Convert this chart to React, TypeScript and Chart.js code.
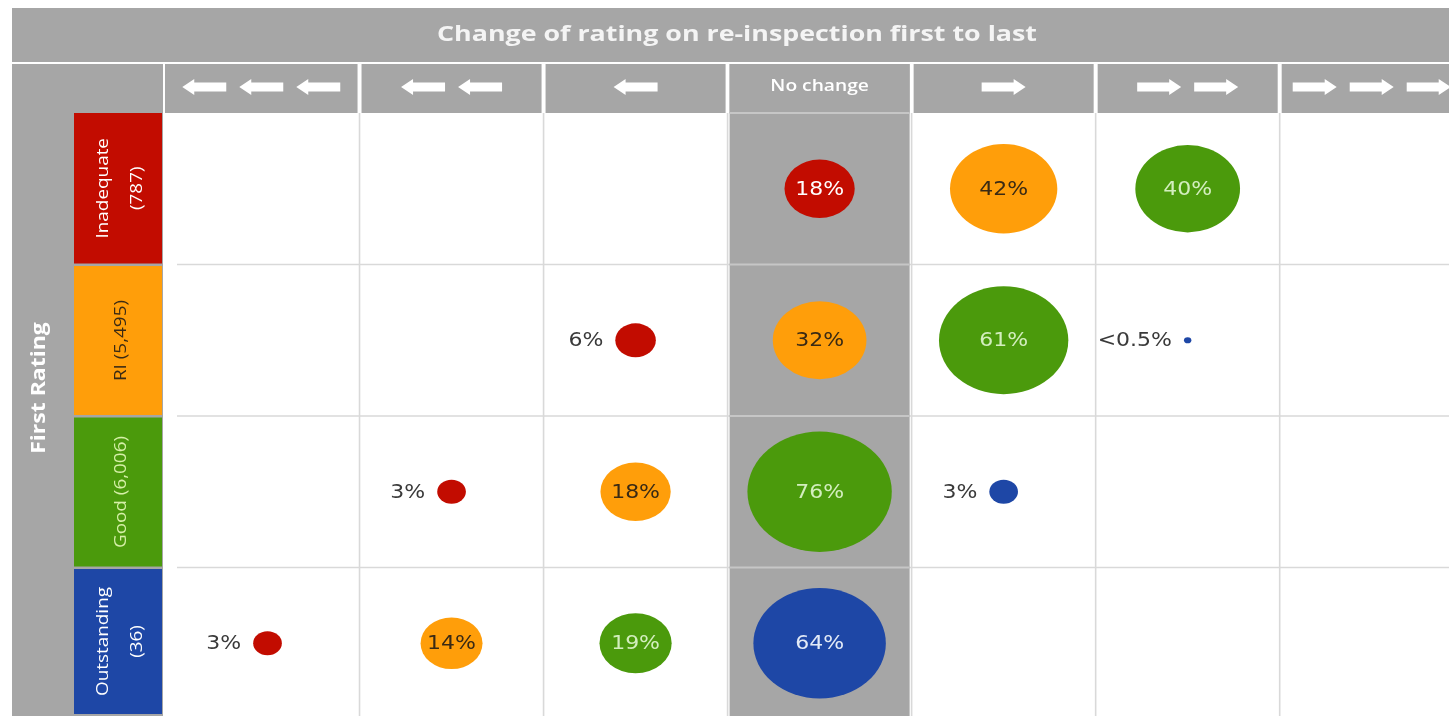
import React, { useEffect, useRef } from 'react';
import { Chart, registerables, BubbleController, PointElement } from 'chart.js';

// ---------------- data ----------------
const TITLE = 'Change of rating on re-inspection first to last';
const Y_TITLE = 'First Rating';
const NO_CHANGE_LABEL = 'No change';
const RATINGS = ['Inadequate', 'RI', 'Good', 'Outstanding'];
const ROW_LABELS = [['Inadequate', '(787)'], ['RI (5,495)'], ['Good (6,006)'], ['Outstanding', '(36)']];
const CHANGES = [-3, -2, -1, 0, 1, 2, 3];
// % of first-rating group by change in rating (null = no bubble)
const INADEQUATE_ROW = [null, null, null, 18, 42, 40, null];
const RI_ROW = [null, null, 6, 32, 61, 0.2, null];
const GOOD_ROW = [null, 3, 18, 76, 3, null, null];
const OUTSTANDING_ROW = [3, 14, 19, 64, null, null, null];
const ROWS = [INADEQUATE_ROW, RI_ROW, GOOD_ROW, OUTSTANDING_ROW];

// ---------------- styles ----------------
const RATING_COLORS = ['#C20C00', '#FF9E0A', '#4B9A0C', '#1E47A6'];
const BUBBLE_TEXT = ['#FFFFFF', '#3A2A14', '#D3EEBE', '#E2EAF7'];
const ROW_TEXT = ['#FFFFFF', '#3A2A14', '#D6F0A8', '#FFFFFF'];
const GRAY = '#A6A6A6';
const GRID = '#D9D9D9';
const R_SCALE = 6.9;
const ELLIPSE_RATIO = 1.2;

class EllipsePoint extends PointElement {
  static id = 'ellipsePoint';
  draw(ctx: CanvasRenderingContext2D) {
    const o: any = (this as any).options;
    if ((this as any).skip || o.radius < 0.1) return;
    ctx.save();
    ctx.fillStyle = o.backgroundColor;
    ctx.beginPath();
    ctx.ellipse((this as any).x, (this as any).y, o.radius * ELLIPSE_RATIO, o.radius, 0, 0, Math.PI * 2);
    ctx.fill();
    ctx.restore();
  }
}
class EllipseBubbleController extends BubbleController {
  static id = 'ellipseBubble';
  static defaults = { ...(BubbleController as any).defaults, dataElementType: 'ellipsePoint' };
}
Chart.register(...registerables, EllipsePoint as any, EllipseBubbleController as any);

function txt(ctx: CanvasRenderingContext2D, t: string, x: number, y: number, font: string, color: string,
  sx = 1, align: CanvasTextAlign = 'center', rot = 0) {
  ctx.save();
  ctx.translate(x, y);
  if (rot) ctx.rotate(rot);
  ctx.scale(sx, 1);
  ctx.font = font;
  ctx.fillStyle = color;
  ctx.textAlign = align;
  ctx.textBaseline = 'middle';
  ctx.fillText(t, 0, 0);
  ctx.restore();
}

function arrow(ctx: CanvasRenderingContext2D, cx: number, cy: number, len: number, dir: number) {
  const headLen = 12, headH = 8, shaftH = 4.5;
  ctx.save();
  ctx.translate(cx, cy);
  ctx.scale(dir, 1);
  ctx.beginPath();
  ctx.moveTo(-len / 2, -shaftH);
  ctx.lineTo(len / 2 - headLen, -shaftH);
  ctx.lineTo(len / 2 - headLen, -headH);
  ctx.lineTo(len / 2, 0);
  ctx.lineTo(len / 2 - headLen, headH);
  ctx.lineTo(len / 2 - headLen, shaftH);
  ctx.lineTo(-len / 2, shaftH);
  ctx.closePath();
  ctx.fillStyle = '#FFFFFF';
  ctx.fill();
  ctx.restore();
}

const bgPlugin = {
  id: 'bgGrid',
  beforeDraw(chart: any) {
    const { ctx, width, height } = chart;
    const x = chart.scales.x, y = chart.scales.y;
    const top = y.getPixelForValue(-0.5);
    const bx = (c: number) => x.getPixelForValue(c - 0.5);
    const by = (r: number) => y.getPixelForValue(r - 0.5);
    ctx.save();
    ctx.fillStyle = '#FFFFFF';
    ctx.fillRect(0, 0, width, height);
    // title bar
    ctx.fillStyle = GRAY;
    ctx.fillRect(12, 8, width - 12, 54);
    // left gray panel
    ctx.fillRect(12, 64, 151, height - 64);
    // column header boxes
    CHANGES.forEach((ch, c) => {
      const l = c === 0 ? 165 : bx(c) + 2;
      const r = Math.min(width, bx(c + 1) - 2);
      ctx.fillStyle = GRAY;
      ctx.fillRect(l, 64, r - l, top - 64);
    });
    // grid lines
    ctx.strokeStyle = GRID;
    ctx.lineWidth = 1.6;
    for (let r = 1; r < RATINGS.length; r++) {
      const yy = by(r);
      ctx.beginPath(); ctx.moveTo(177, yy); ctx.lineTo(width, yy); ctx.stroke();
    }
    for (let c = 1; c < CHANGES.length; c++) {
      const xx = bx(c);
      ctx.beginPath(); ctx.moveTo(xx, top); ctx.lineTo(xx, height); ctx.stroke();
    }
    // no-change column
    const nc = CHANGES.indexOf(0);
    const l = bx(nc) + 2, r = bx(nc + 1) - 2;
    ctx.fillStyle = GRAY;
    ctx.fillRect(l, 64, r - l, height - 64);
    ctx.strokeStyle = '#C6C6C6';
    ctx.lineWidth = 2;
    for (let k = 0; k < RATINGS.length; k++) {
      const yy = by(k);
      ctx.beginPath(); ctx.moveTo(l, yy); ctx.lineTo(r, yy); ctx.stroke();
    }
    // column header content
    CHANGES.forEach((ch, c) => {
      const cx = c === 0 ? (165 + bx(1) - 2) / 2 : x.getPixelForValue(c);
      if (ch === 0) {
        txt(ctx, NO_CHANGE_LABEL, cx, 86, '600 16px "Open Sans"', '#FFFFFF', 1.2);
        return;
      }
      const n = Math.abs(ch), len = 44, gap = 13;
      const total = n * len + (n - 1) * gap;
      for (let i = 0; i < n; i++) {
        arrow(ctx, cx - total / 2 + len / 2 + i * (len + gap), 87, len, Math.sign(ch));
      }
    });
    // row label boxes
    RATINGS.forEach((name, k) => {
      const y0 = by(k) + (k === 0 ? 0 : 1.5);
      const y1 = Math.min(by(k + 1) - 1, height - 2);
      ctx.fillStyle = RATING_COLORS[k];
      ctx.fillRect(74, y0, 88, y1 - y0);
      const lines = ROW_LABELS[k];
      const cy = (y0 + y1) / 2;
      const xs = lines.length === 1 ? [121] : [103.5, 137.5];
      lines.forEach((t, i) => txt(ctx, t, xs[i], cy, '16px "Open Sans"', ROW_TEXT[k], 1.18, 'center', -Math.PI / 2));
    });
    // first rating title
    txt(ctx, Y_TITLE, 39, 388, 'bold 20px "Open Sans"', '#FFFFFF', 1.15, 'center', -Math.PI / 2);
    // main title
    const tf = 'bold 22px "Open Sans"';
    ctx.font = tf;
    const w = ctx.measureText(TITLE).width;
    txt(ctx, TITLE, 737, 35, tf, '#F4F4F4', 600 / w);
    ctx.restore();
  },
};

const labelPlugin = {
  id: 'bubbleLabels',
  afterDatasetsDraw(chart: any) {
    const { ctx } = chart;
    chart.data.datasets.forEach((ds: any, di: number) => {
      const meta = chart.getDatasetMeta(di);
      meta.data.forEach((el: any, i: number) => {
        const raw = ds.data[i];
        const v = raw.v;
        const label = v < 0.5 ? '<0.5%' : `${v}%`;
        const font = '20px "DejaVu Sans"';
        if (v >= 10) {
          txt(ctx, label, el.x, el.y + 1, font, BUBBLE_TEXT[ds.ratingIndex], 1.1);
        } else {
          const rx = el.options.radius * ELLIPSE_RATIO;
          txt(ctx, label, el.x - rx - 12, el.y + 1, font, '#3A3A3A', 1.1, 'right');
        }
      });
    });
  },
};

function buildDatasets() {
  return RATINGS.map((name, k) => {
    const data: any[] = [];
    ROWS.forEach((row, r) => {
      row.forEach((v, c) => {
        if (v === null) return;
        if (r + CHANGES[c] !== k) return;
        data.push({ x: c, y: r, r: R_SCALE * Math.sqrt(v), v });
      });
    });
    return {
      label: name,
      ratingIndex: k,
      data,
      backgroundColor: RATING_COLORS[k],
      borderWidth: 0,
      clip: false,
    } as any;
  });
}

export default function App() {
  const ref = useRef<HTMLCanvasElement>(null);
  useEffect(() => {
    document.body.style.margin = '0';
    if (!ref.current) return;
    const chart = new Chart(ref.current, {
      type: 'ellipseBubble' as any,
      data: { datasets: buildDatasets() },
      options: {
        animation: false,
        responsive: false,
        events: [],
        layout: { autoPadding: false, padding: { left: 175.5, top: 113, right: 0, bottom: 0 } } as any,
        plugins: { legend: { display: false }, tooltip: { enabled: false }, title: { display: false } },
        scales: {
          x: { type: 'linear', min: -0.5, max: 6.42, display: false },
          y: { type: 'linear', min: -0.5, max: 3.48, reverse: true, display: false },
        },
      } as any,
      plugins: [bgPlugin, labelPlugin],
    });
    return () => chart.destroy();
  }, []);
  return (
    <div style={{ position: 'absolute', left: 0, top: 0, width: 1449, height: 716 }}>
      <canvas ref={ref} width={1449} height={716} style={{ display: 'block' }} />
    </div>
  );
}
